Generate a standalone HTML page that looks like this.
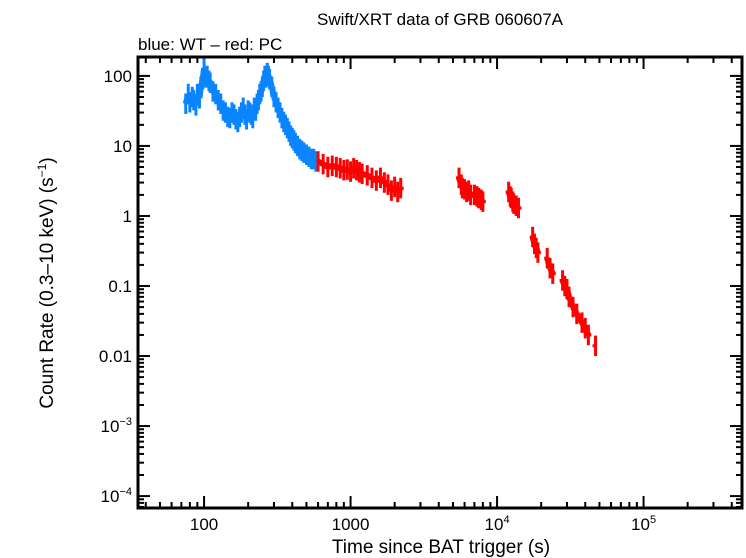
<!DOCTYPE html>
<html><head><meta charset="utf-8"><style>
body{margin:0;background:#fff}
svg{display:block;font-family:"Liberation Sans",sans-serif}
</style></head><body>
<svg id="c" width="746" height="558">
<text x="440" y="25" font-size="17" text-anchor="middle">Swift/XRT data of GRB 060607A</text>
<text x="138" y="50" font-size="17">blue: WT – red: PC</text>
<text x="441" y="553" font-size="19" text-anchor="middle">Time since BAT trigger (s)</text>
<text transform="translate(53,283) rotate(-90)" font-size="19" text-anchor="middle">Count Rate (0.3–10 keV) (s<tspan dy="-7" font-size="12">−1</tspan><tspan dy="7">)</tspan></text>
<g id="ticks"></g>
<g id="marks"></g>
<rect x="138" y="57" width="604" height="451" fill="none" stroke="#000" stroke-width="3"/>
</svg>
<script>
const wtTimes=[75,78,80,83,85,88,90,93,95,98,100,103,105,108,110,115,120,125,130,135,140,145,150,155,160,165,170,175,180,185,190,195,200,205,210,215,220,225,230,235,240,245,250,255,260,265,270,275,280,290,300,310,320,330,340,350,360,370,380,390,400,410,420,435,450,465,480,500,520,540,560,580];
const wtRates=[40,55,42,50,45,38,55,48,70,90,130,95,100,85,80,60,55,45,40,32,30,26,25,30,28,24,22,26,30,35,28,24,32,30,28,25,35,32,40,45,55,60,70,85,100,95,110,100,90,70,50,42,35,30,25,22,20,18,16,14,13,12,11,10,9,8.5,8,7.5,7,6.5,6.5,6];
const pcTimes=[600,650,700,750,800,850,900,950,1000,1050,1100,1150,1200,1300,1400,1500,1600,1700,1800,1900,2000,2100,2200,5500,5700,5800,6000,6200,6400,6600,7000,7300,7500,7800,8000,12000,12300,12500,12800,13000,13500,14000,17500,18000,18500,19000,22000,23000,24000,28000,29000,30000,31000,33000,35000,38000,40000,42000,47000];
const pcRates=[6,5.5,5,5.2,5,4.8,4.5,4.6,4.3,4.8,4.5,4.2,4,3.8,3.5,3.2,3.5,3,2.8,2.3,2.6,2.2,2.5,3.5,2.8,2.5,2.4,2.2,2.3,2,2,1.9,1.8,1.7,1.6,2.2,1.9,1.8,1.6,1.5,1.4,1.3,0.5,0.4,0.35,0.3,0.25,0.18,0.15,0.12,0.1,0.09,0.07,0.05,0.04,0.03,0.025,0.02,0.014];
const xDecades=[2,3,4,5];
const xLabels=["100","1000","10^4","10^5"];
const yDecades=[2,1,0,-1,-2,-3,-4];
const yLabels=["100","10","1","0.1","0.01","10^-3","10^-4"];
const NS="http://www.w3.org/2000/svg";
const L=138,R=742,T=57,B=508,xmin=1.549,xmax=5.672,ymin=-4.17,ymax=2.27;
const X=v=>L+(Math.log10(v)-xmin)/(xmax-xmin)*(R-L);
const Y=v=>B-(Math.log10(v)-ymin)/(ymax-ymin)*(B-T);
const XL=l=>L+(l-xmin)/(xmax-xmin)*(R-L);
const YL=l=>B-(l-ymin)/(ymax-ymin)*(B-T);
function mk(t,a,p){const e=document.createElementNS(NS,t);for(const k in a)e.setAttribute(k,a[k]);p.appendChild(e);return e;}
const tg=document.getElementById('ticks'),mg=document.getElementById('marks');
function lbl(s,x,y,anchor){const t=mk('text',{x:x,y:y,'font-size':17,'text-anchor':anchor},tg);
 
 
 if(s.includes('^')){const [b,e]=s.split('^');t.textContent=b;const sp=mk('tspan',{dy:-7,'font-size':11},t);sp.textContent=e.replace('-','−');}
 else t.textContent=s;}
for(let d=1;d<=5;d++)for(let m=1;m<10;m++){const l=d+Math.log10(m);if(l<xmin||l>xmax)continue;const x=XL(l),len=m==1?12:6;
 const a=mk('line',{x1:x,x2:x,y1:B,y2:B-len,stroke:'#000','stroke-width':2},tg);
 const b=mk('line',{x1:x,x2:x,y1:T,y2:T+len,stroke:'#000','stroke-width':2},tg);}
for(let d=-5;d<=2;d++)for(let m=1;m<10;m++){const l=d+Math.log10(m);if(l<ymin||l>ymax)continue;const y=YL(l),len=m==1?12:6;
 const a=mk('line',{x1:L,x2:L+len,y1:y,y2:y,stroke:'#000','stroke-width':2},tg);
 const b=mk('line',{x1:R,x2:R-len,y1:y,y2:y,stroke:'#000','stroke-width':2},tg);}
xDecades.forEach((d,i)=>lbl(xLabels[i],XL(d),530,'middle'));
yDecades.forEach((d,i)=>lbl(yLabels[i],L-6,YL(d)+6,'end'));
function series(ts,rs,col,name){
 for(let i=0;i<ts.length;i++){
  const x=X(ts[i]),y=Y(rs[i]);
  const x0=i>0?X(ts[i-1]):x-3,x1=i<ts.length-1?X(ts[i+1]):x+3;
  const gapL=Math.min(x-x0,6)/2,gapR=Math.min(x1-x,6)/2;
  const h=mk('line',{x1:x-gapL,x2:x+gapR,y1:y,y2:y,stroke:col,'stroke-width':3},mg);
  
  
  const v=mk('line',{x1:x,x2:x,y1:Y(rs[i]*1.4),y2:Y(rs[i]/1.4),stroke:col,'stroke-width':3},mg);
  
  
  if(i<ts.length-1&&x1-x<7){const c=mk('line',{x1:x,x2:x1,y1:y,y2:Y(rs[i+1]),stroke:col,'stroke-width':6},mg);
   
   }
 }}
series(wtTimes,wtRates,'#0a84ff','wt');
series(pcTimes,pcRates,'#ff0000','pc');
</script>
</body></html>
